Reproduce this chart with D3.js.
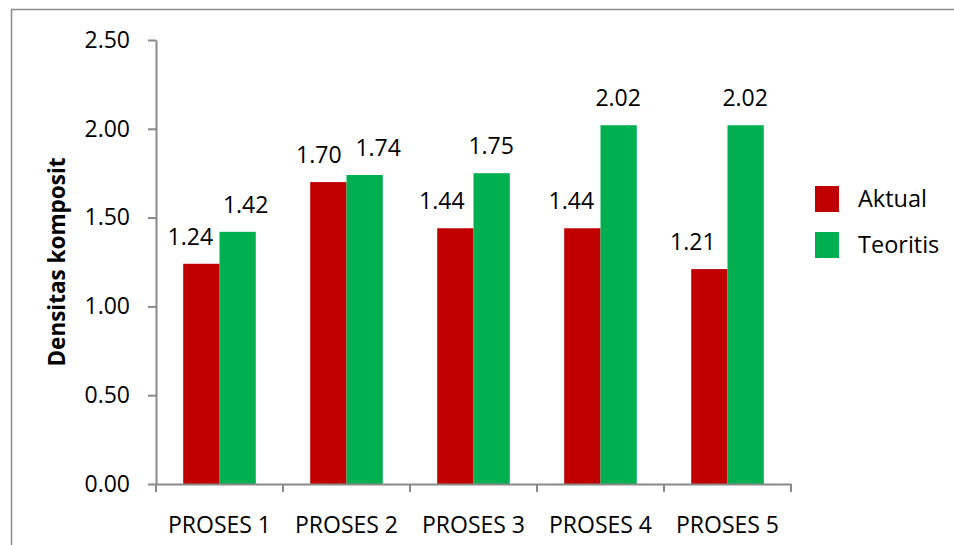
<!DOCTYPE html>
<html>
<head>
<meta charset="utf-8">
<script src="https://cdn.jsdelivr.net/npm/d3@7"></script>
<style>
  body { margin: 0; background: #fff; }
  text { font-family: "Open Sans", sans-serif; fill: #000; }
</style>
</head>
<body>
<div id="chart"></div>
<script>
'use strict';
// data
var categories = ["PROSES 1", "PROSES 2", "PROSES 3", "PROSES 4", "PROSES 5"];
var seriesNames = ["Aktual", "Teoritis"];
var aktual = [1.24, 1.70, 1.44, 1.44, 1.21];
var teoritis = [1.42, 1.74, 1.75, 2.02, 2.02];
var yTicks = [0, 0.5, 1.0, 1.5, 2.0, 2.5];
var colors = ["#C00000", "#00B050"];
// labels were nudged sideways in the original so they don't collide
var labelShift = [[-11, -9.5, -13.5, -11, -16.5], [8, 13.5, -0.5, -0.5, -0.5]];

var width = 954, height = 545;
var margin = { top: 40, left: 156, right: 163, bottom: 61 };

var svg = d3.select("#chart").append("svg")
    .attr("width", width)
    .attr("height", height);

// outer frame
svg.append("rect")
    .attr("x", 11.5).attr("y", 9.5)
    .attr("width", width).attr("height", height)
    .attr("fill", "none")
    .attr("stroke", "#898989")
    .attr("stroke-width", 1.5);

var x = d3.scaleBand()
    .domain(categories)
    .range([margin.left, width - margin.right]);

var xs = d3.scaleBand()
    .domain(seriesNames)
    .range([0, x.bandwidth()])
    .paddingInner(0)
    .paddingOuter(0.75);

var y = d3.scaleLinear()
    .domain([0, 2.5])
    .range([height - margin.bottom, margin.top]);

var data = categories.map(function (c, i) {
    return { cat: c, i: i, values: [aktual[i], teoritis[i]] };
});

// bars
var groups = svg.selectAll(".grp")
    .data(data)
    .enter().append("g")
    .attr("class", "grp")
    .attr("transform", function (d) { return "translate(" + x(d.cat) + ",0)"; });

groups.selectAll("rect")
    .data(function (d) {
        return d.values.map(function (v, s) { return { v: v, s: s, i: d.i }; });
    })
    .enter().append("rect")
    .attr("x", function (d) { return xs(seriesNames[d.s]); })
    .attr("width", xs.bandwidth())
    .attr("y", function (d) { return y(d.v); })
    .attr("height", function (d) { return y(0) - y(d.v); })
    .attr("fill", function (d) { return colors[d.s]; });

// value labels
groups.selectAll(".lbl")
    .data(function (d) {
        return d.values.map(function (v, s) { return { v: v, s: s, i: d.i }; });
    })
    .enter().append("text")
    .attr("class", "lbl")
    .attr("x", function (d) { return xs(seriesNames[d.s]) + xs.bandwidth() / 2 + labelShift[d.s][d.i]; })
    .attr("y", function (d) { return y(d.v) - 19; })
    .attr("text-anchor", "middle")
    .style("font-size", "23px")
    .text(function (d) { return d3.format(".2f")(d.v); });

// y axis
var yAxis = svg.append("g")
    .attr("transform", "translate(" + margin.left + ",0)")
    .call(d3.axisLeft(y).tickValues(yTicks).tickFormat(d3.format(".2f")).tickSize(8).tickSizeOuter(0).tickPadding(18));

// x axis, ticks on the category boundaries
var xAxis = svg.append("g")
    .attr("transform", "translate(0," + y(0) + ")")
    .call(d3.axisBottom(x).tickSize(0).tickPadding(33));

xAxis.selectAll(".bound")
    .data(d3.range(categories.length + 1))
    .enter().append("line")
    .attr("class", "bound")
    .attr("x1", function (k) { return margin.left + k * x.step(); })
    .attr("x2", function (k) { return margin.left + k * x.step(); })
    .attr("y1", 0).attr("y2", 8);

[yAxis, xAxis].forEach(function (a) {
    a.select(".domain").attr("stroke", "#898989").attr("stroke-width", 2);
    a.selectAll("line").attr("stroke", "#898989").attr("stroke-width", 2);
    a.selectAll("text").style("font-size", "23px").style("font-family", "Open Sans").attr("fill", "#000");
});

// y title
svg.append("text")
    .attr("transform", "translate(65," + (y(0) + y(2.5)) / 2 + ") rotate(-90)")
    .attr("text-anchor", "middle")
    .style("font-size", "22.5px")
    .style("font-weight", "bold")
    .text("Densitas komposit");

// legend
var legend = svg.selectAll(".leg")
    .data(seriesNames)
    .enter().append("g")
    .attr("class", "leg")
    .attr("transform", function (d, i) { return "translate(815," + (186 + i * 46) + ")"; });

legend.append("rect")
    .attr("width", 24).attr("height", 26)
    .attr("fill", function (d, i) { return colors[i]; });

legend.append("text")
    .attr("x", 43).attr("y", 13)
    .attr("dy", "0.35em")
    .style("font-size", "23.5px")
    .text(function (d) { return d; });
</script>
</body>
</html>
